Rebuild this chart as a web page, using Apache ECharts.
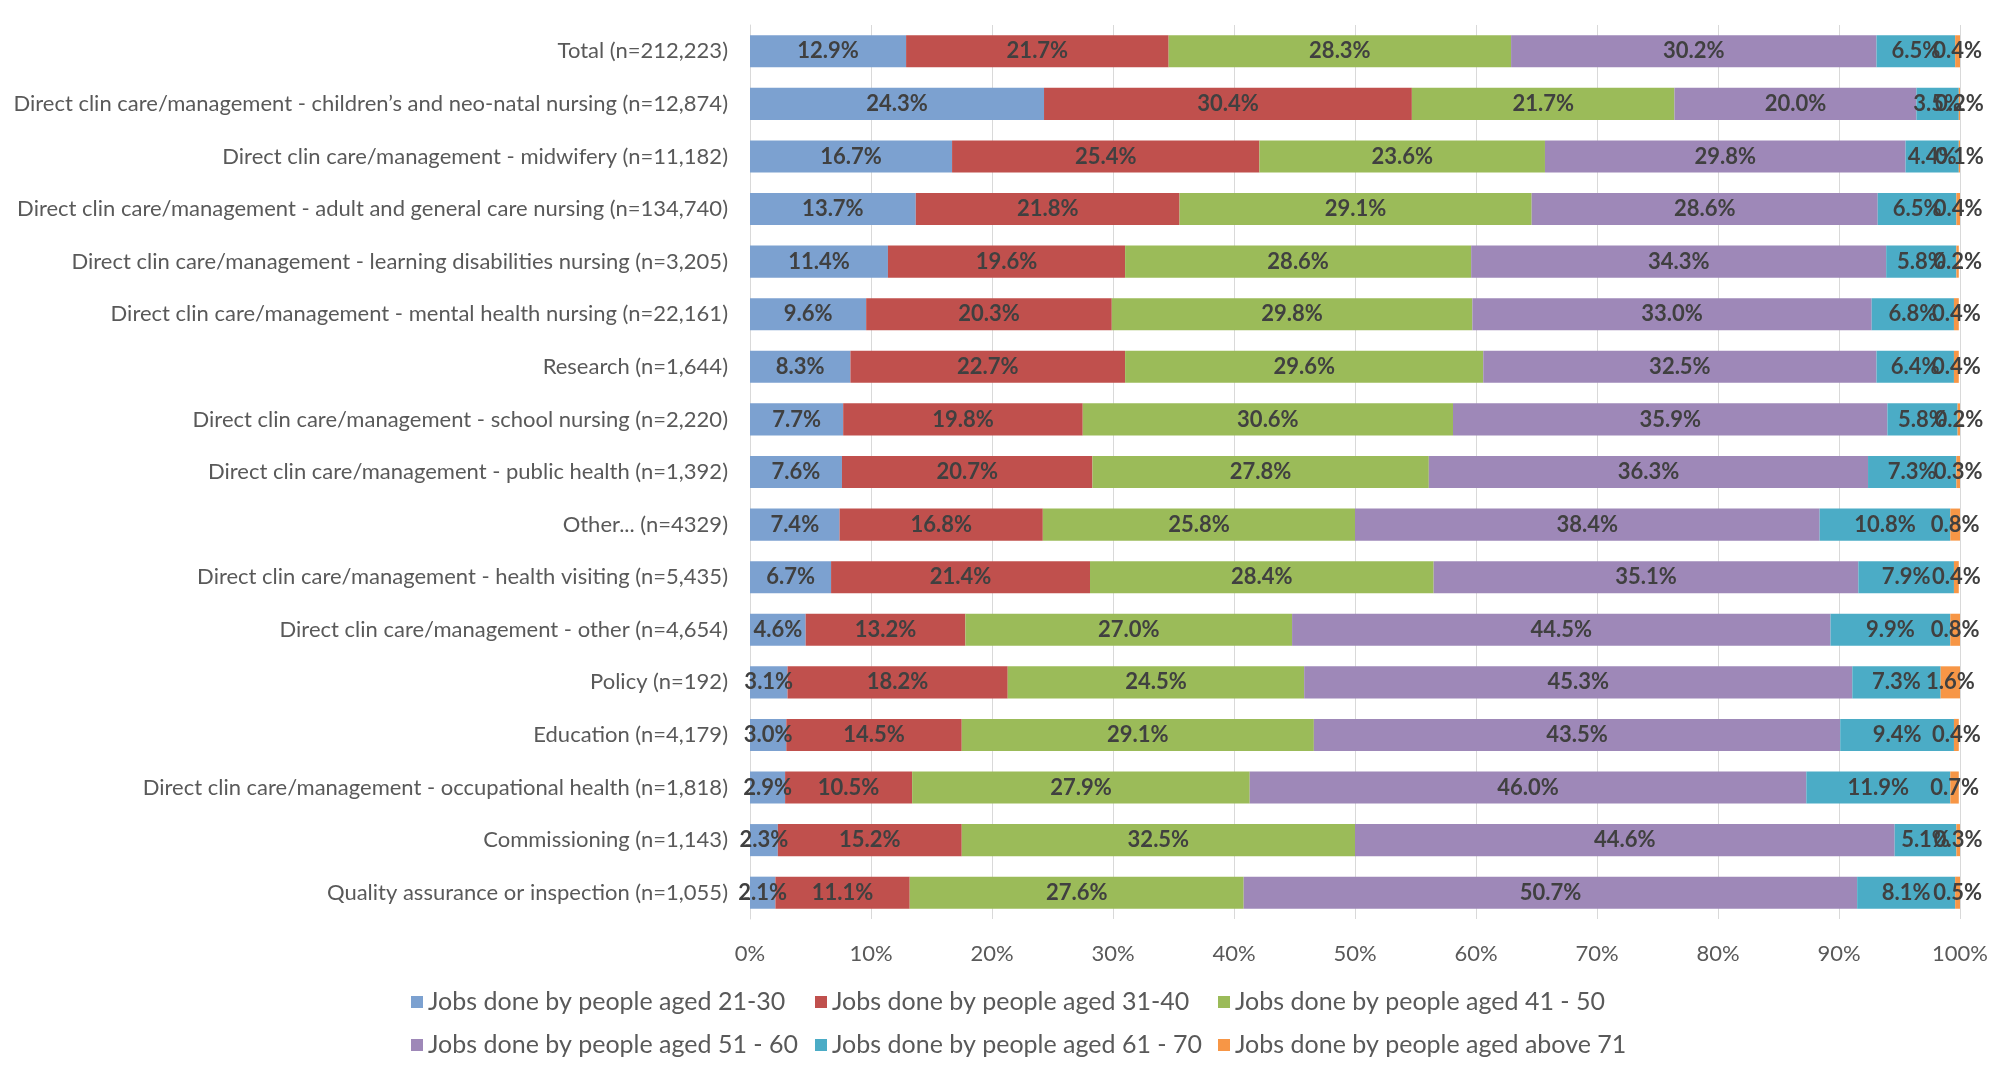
<!DOCTYPE html>
<html>
<head>
<meta charset="utf-8">
<script src="https://cdn.jsdelivr.net/npm/echarts@6/dist/echarts.min.js"></script>
<style>html,body{margin:0;padding:0;background:#fff;}#c{width:2009px;height:1076px;}</style>
</head>
<body>
<div id="c"></div>
<script>
const categories = [
  "Total (n=212,223)",
  "Direct clin care/management - children\u2019s and neo-natal nursing (n=12,874)",
  "Direct clin care/management - midwifery (n=11,182)",
  "Direct clin care/management - adult and general care nursing (n=134,740)",
  "Direct clin care/management - learning disabilities nursing (n=3,205)",
  "Direct clin care/management - mental health nursing (n=22,161)",
  "Research (n=1,644)",
  "Direct clin care/management - school nursing (n=2,220)",
  "Direct clin care/management - public health (n=1,392)",
  "Other... (n=4329)",
  "Direct clin care/management - health visiting (n=5,435)",
  "Direct clin care/management - other (n=4,654)",
  "Policy (n=192)",
  "Education (n=4,179)",
  "Direct clin care/management - occupational health (n=1,818)",
  "Commissioning (n=1,143)",
  "Quality assurance or inspection (n=1,055)"
];
const seriesNames = [
  "Jobs done by people aged 21-30",
  "Jobs done by people aged 31-40",
  "Jobs done by people aged 41 - 50",
  "Jobs done by people aged 51 - 60",
  "Jobs done by people aged 61 - 70",
  "Jobs done by people aged above 71"
];
const aged21_30 = [12.9,24.3,16.7,13.7,11.4,9.6,8.3,7.7,7.6,7.4,6.7,4.6,3.1,3.0,2.9,2.3,2.1];
const aged31_40 = [21.7,30.4,25.4,21.8,19.6,20.3,22.7,19.8,20.7,16.8,21.4,13.2,18.2,14.5,10.5,15.2,11.1];
const aged41_50 = [28.3,21.7,23.6,29.1,28.6,29.8,29.6,30.6,27.8,25.8,28.4,27.0,24.5,29.1,27.9,32.5,27.6];
const aged51_60 = [30.2,20.0,29.8,28.6,34.3,33.0,32.5,35.9,36.3,38.4,35.1,44.5,45.3,43.5,46.0,44.6,50.7];
const aged61_70 = [6.5,3.5,4.4,6.5,5.8,6.8,6.4,5.8,7.3,10.8,7.9,9.9,7.3,9.4,11.9,5.1,8.1];
const agedAbove71 = [0.4,0.2,0.1,0.4,0.2,0.4,0.4,0.2,0.3,0.8,0.4,0.8,1.6,0.4,0.7,0.3,0.5];
const xTicks = [0,10,20,30,40,50,60,70,80,90,100];

const colors = ["#7CA1D0","#C0504D","#9BBB59","#9E88B8","#4BACC6","#F79646"];
const allData = [aged21_30, aged31_40, aged41_50, aged51_60, aged61_70, agedAbove71];
const FONT = "Lato, 'Open Sans', sans-serif";

const chart = echarts.init(document.getElementById('c'), null, {renderer:'canvas'});
const series = allData.map((d,i)=>({
  name: seriesNames[i],
  type: 'bar',
  stack: 'total',
  data: d,
  barCategoryGap: '39%',
  itemStyle: {color: colors[i]},
  label: {
    show: true,
    position: 'inside',
    formatter: p => p.value.toFixed(1) + '%',
    color: '#404040',
    fontFamily: FONT,
    fontWeight: 'bold',
    fontSize: 22
  },
  emphasis: {disabled: true},
  animation: false
}));

const legendCols = [411, 815, 1218];
const legendRows = [987, 1030];
const legends = seriesNames.map((n,i)=>({
  left: legendCols[i % 3],
  top: legendRows[Math.floor(i / 3)],
  padding: 0,
  itemWidth: 12,
  itemHeight: 12,
  icon: 'rect',
  textStyle: {color:'#595959', fontFamily: FONT, fontSize: 25, lineHeight: 30},
  selectedMode: false,
  data: [n]
}));

chart.setOption({
  backgroundColor: '#fff',
  animation: false,
  grid: {left: 750, right: 49, top: 25, bottom: 157, containLabel: false},
  legend: legends,
  xAxis: {
    type: 'value',
    min: 0, max: 100, interval: 10,
    axisLabel: {formatter: v => xTicks.includes(v) ? v + '%' : '', color:'#595959', fontFamily: FONT, fontSize: 22, margin: 24},
    splitLine: {show: true, lineStyle: {color:'#D9D9D9', width: 1}},
    axisLine: {show: false},
    axisTick: {show: false}
  },
  yAxis: {
    type: 'category',
    inverse: true,
    data: categories,
    axisLabel: {color:'#595959', fontFamily: FONT, fontSize: 22, margin: 22},
    axisLine: {show: true, lineStyle: {color:'#D9D9D9', width: 1}},
    axisTick: {show: false}
  },
  series: series
});
</script>
</body>
</html>
